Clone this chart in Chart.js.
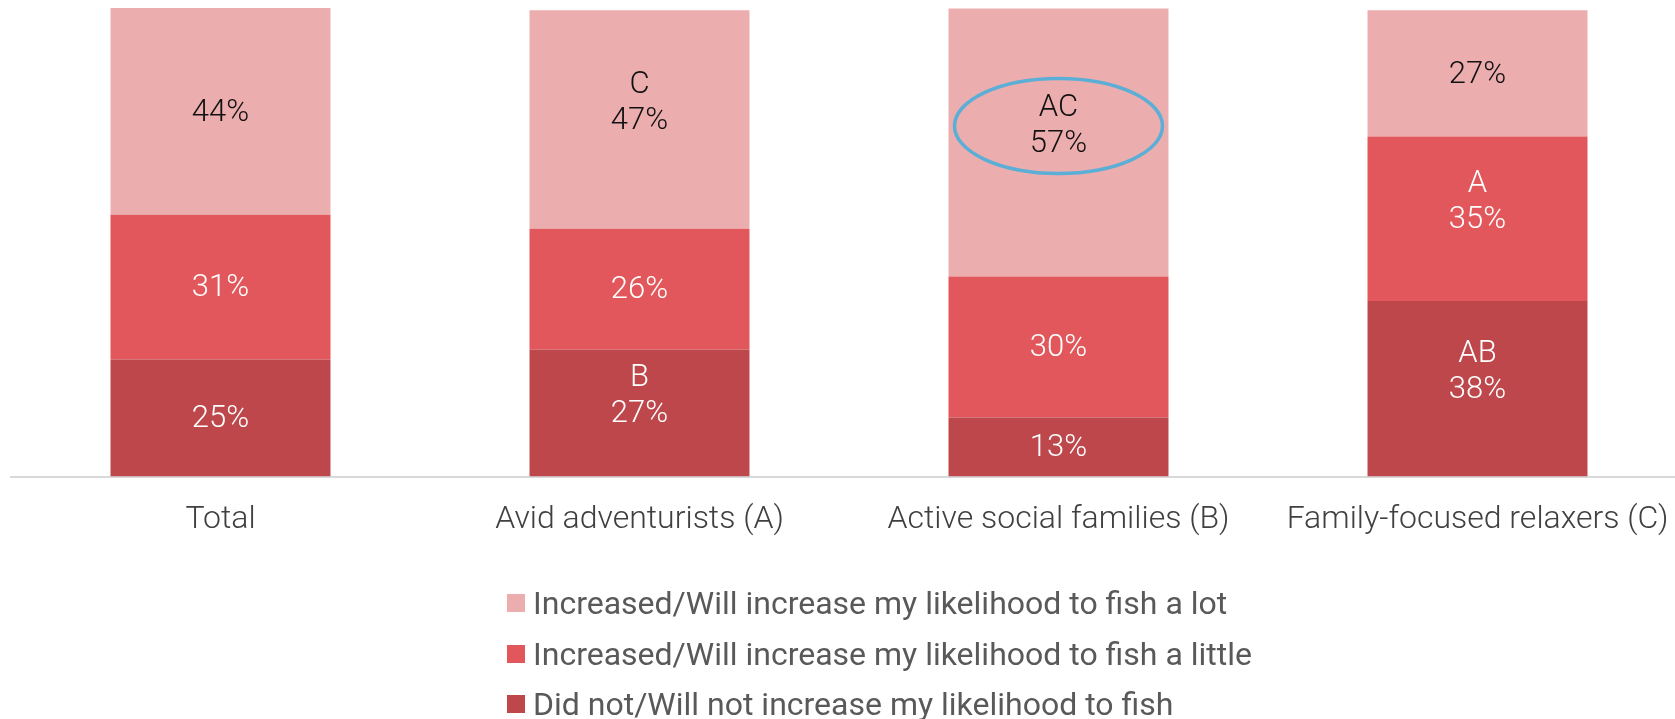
<!DOCTYPE html>
<html>
<head>
<meta charset="utf-8">
<title>Likelihood to fish</title>
<script src="https://cdn.jsdelivr.net/npm/chart.js@4.4.1/dist/chart.umd.min.js"></script>
<style>
  html, body { margin: 0; padding: 0; background: #fff; overflow: hidden; }
  #wrap { position: relative; width: 1687px; height: 719px; }
  #legend { position: absolute; left: 507px; top: 578px; font-family: Roboto, sans-serif; font-size: 32px; color: #595959; }
  .legend-item { display: flex; align-items: center; height: 50.4px; white-space: nowrap; }
  .legend-box { width: 18px; height: 18px; margin-right: 8px; flex: none; }
</style>
</head>
<body>
<div id="wrap">
  <canvas id="chart"></canvas>
  <div id="legend"></div>
</div>
<script>
const categories = ["Total", "Avid adventurists (A)", "Active social families (B)", "Family-focused relaxers (C)"];
const seriesNames = [
  "Did not/Will not increase my likelihood to fish",
  "Increased/Will increase my likelihood to fish a little",
  "Increased/Will increase my likelihood to fish a lot"
];
// percentages, bottom segment first
const didNotValues = [25.0, 27.1, 12.6, 37.5];
const aLittleValues = [30.9, 25.8, 30.1, 35.1];
const aLotValues = [44.1, 46.6, 57.2, 26.9];
// significance letters printed above the percentage
const didNotSig = ["", "B", "", "AB"];
const aLittleSig = ["", "", "", "A"];
const aLotSig = ["", "C", "AC", ""];
// the label that is circled in the original
const circled = { series: 2, index: 2 };

const barLabels = {
  id: "barLabels",
  afterDatasetsDraw(chart) {
    const ctx = chart.ctx;
    ctx.save();
    ctx.font = "300 31px Roboto";
    ctx.textAlign = "center";
    ctx.textBaseline = "middle";
    chart.data.datasets.forEach((ds, di) => {
      const meta = chart.getDatasetMeta(di);
      meta.data.forEach((bar, i) => {
        const cy = (bar.y + bar.base) / 2 + 1.5;
        ctx.fillStyle = ds.labelColor;
        ctx.fillText(Math.round(ds.data[i]) + "%", bar.x, cy);
        if (ds.sig[i]) ctx.fillText(ds.sig[i], bar.x, cy - 36);
        if (di === circled.series && i === circled.index) {
          ctx.beginPath();
          ctx.ellipse(bar.x, cy - 18, 104, 47.5, 0, 0, Math.PI * 2);
          ctx.strokeStyle = "#5bafd6";
          ctx.lineWidth = 3.5;
          ctx.stroke();
        }
      });
    });
    ctx.restore();
  }
};

const ctx = document.getElementById("chart").getContext("2d");
const chart = new Chart(ctx, {
  type: "bar",
  data: {
    labels: categories,
    datasets: [
      { label: seriesNames[0], data: didNotValues, sig: didNotSig, backgroundColor: "#bd474b", labelColor: "#ffffff" },
      { label: seriesNames[1], data: aLittleValues, sig: aLittleSig, backgroundColor: "#e2575c", labelColor: "#ffffff" },
      { label: seriesNames[2], data: aLotValues, sig: aLotSig, backgroundColor: "#ecadae", labelColor: "#111111" }
    ]
  },
  options: {
    responsive: true,
    maintainAspectRatio: false,
    animation: false,
    layout: { padding: { left: 11, right: 0, top: 8, bottom: 156 } },
    datasets: { bar: { barPercentage: 0.525, categoryPercentage: 1, borderWidth: 0 } },
    plugins: { legend: { display: false }, tooltip: { enabled: false } },
    scales: {
      x: {
        stacked: true,
        grid: { display: false, drawTicks: false },
        border: { display: true, color: "#d9d9d9", width: 2 },
        ticks: { color: "#404040", padding: 24, font: { family: "Roboto", size: 32, weight: 300 } },
        // long last label should not squeeze the plot
        afterFit(scale) { scale.paddingLeft = 0; scale.paddingRight = 0; }
      },
      y: { stacked: true, min: 0, max: 100, display: false }
    }
  },
  plugins: [barLabels]
});

// legend: top series first, like the original
const legend = document.getElementById("legend");
chart.data.datasets.slice().reverse().forEach(ds => {
  const item = document.createElement("div");
  item.className = "legend-item";
  item.innerHTML = `<span class="legend-box" style="background:${ds.backgroundColor}"></span><span>${ds.label}</span>`;
  legend.appendChild(item);
});
</script>
</body>
</html>
